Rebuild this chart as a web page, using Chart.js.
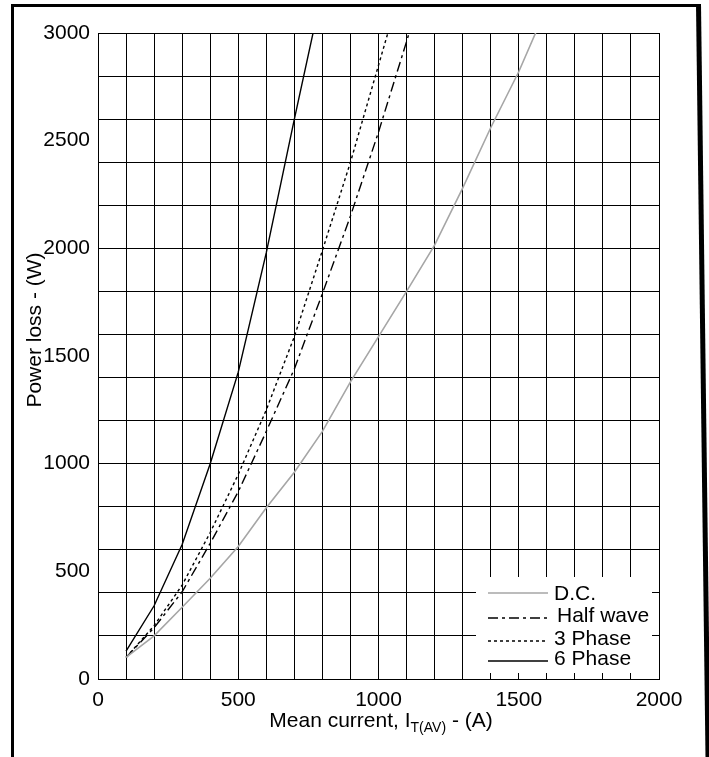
<!DOCTYPE html>
<html>
<head>
<meta charset="utf-8">
<title>Power loss</title>
<style>
  body { margin: 0; background: #fff; }
  #wrap { position: relative; width: 709px; height: 757px; }
</style>
</head>
<body>
<div id="wrap"><canvas id="lossChart"></canvas></div>

<script src="https://cdn.jsdelivr.net/npm/chart.js"></script>
<script>
  // mean current I_T(AV) in A
  const currents = [100, 200, 300, 400, 500, 600, 700, 800, 900, 1000, 1100, 1200, 1300, 1400, 1500, 1600];

  // power loss in W
  const dcLoss         = [100, 200, 333, 468, 615, 795, 960, 1150, 1380, 1590, 1800, 2015, 2280, 2560, 2820, 3120];
  const halfWaveLoss   = [100, 238, 405, 630, 870, 1150, 1440, 1790, 2150, 2540, 2960, 3400];
  const threePhaseLoss = [100, 248, 436, 680, 950, 1250, 1590, 1990, 2400, 2850, 3300];
  const sixPhaseLoss   = [130, 340, 625, 1000, 1425, 1980, 2600, 3200];

  const seriesNames = ['D.C.', 'Half wave', '3 Phase', '6 Phase'];
  const xTickLabels = [0, 500, 1000, 1500, 2000];
  const yTickLabels = [0, 500, 1000, 1500, 2000, 2500, 3000];

  const FONT = '"Liberation Sans", Arial, Helvetica, sans-serif';

  function toPoints(values) {
    return values.map((v, i) => ({ x: currents[i], y: v }));
  }

  // frame, axis titles and the boxed legend
  const decor = {
    id: 'decor',
    afterDraw(chart) {
      const ctx = chart.ctx;
      ctx.save();

      // outer frame (bottom edge is off the page)
      ctx.fillStyle = '#000';
      ctx.fillRect(11, 4, 3, 753);
      ctx.fillRect(11, 4, 690, 3);
      ctx.beginPath();
      ctx.moveTo(696, 4);
      ctx.lineTo(701, 4);
      ctx.lineTo(710.5, 757);
      ctx.lineTo(705.5, 757);
      ctx.closePath();
      ctx.fill();

      // x title with subscript
      ctx.fillStyle = '#000';
      ctx.textBaseline = 'alphabetic';
      ctx.textAlign = 'left';
      const big = '21px ' + FONT, small = '14px ' + FONT;
      const a = 'Mean current, I', b = 'T(AV)', c = ' - (A)';
      ctx.font = big;
      const wa = ctx.measureText(a).width, wc = ctx.measureText(c).width;
      ctx.font = small;
      const wb = ctx.measureText(b).width;
      let x = 381 - (wa + wb + wc) / 2;
      ctx.font = big;
      ctx.fillText(a, x, 727);
      x += wa;
      ctx.font = small;
      ctx.fillText(b, x, 732);
      x += wb;
      ctx.font = big;
      ctx.fillText(c, x, 727);

      // y title
      ctx.save();
      ctx.translate(35, 330);
      ctx.rotate(-Math.PI / 2);
      ctx.textAlign = 'center';
      ctx.textBaseline = 'middle';
      ctx.font = big;
      ctx.fillText('Power loss - (W)', 0, 0);
      ctx.restore();

      // legend box
      ctx.fillStyle = '#fff';
      ctx.fillRect(476, 577, 176, 96);
      const lineY = [593, 618, 641, 661];
      const textY = [600, 622, 645, 665];
      const textX = [554, 557, 554, 554];
      chart.data.datasets.forEach((ds, i) => {
        ctx.beginPath();
        ctx.strokeStyle = ds.borderColor;
        ctx.lineWidth = ds.borderWidth;
        ctx.setLineDash(ds.borderDash || []);
        ctx.moveTo(488, lineY[i]);
        ctx.lineTo(548, lineY[i]);
        ctx.stroke();
        ctx.setLineDash([]);
        ctx.fillStyle = '#000';
        ctx.font = big;
        ctx.fillText(ds.label, textX[i], textY[i]);
      });

      ctx.restore();
    }
  };

  const ctx = document.getElementById('lossChart').getContext('2d');
  const lossChart = new Chart(ctx, {
    type: 'line',
    data: {
      datasets: [
        { label: seriesNames[0], data: toPoints(dcLoss), borderColor: '#a6a6a6', borderWidth: 1.6 },
        { label: seriesNames[1], data: toPoints(halfWaveLoss), borderColor: '#000', borderWidth: 1.4, borderDash: [10, 4, 3, 4] },
        { label: seriesNames[2], data: toPoints(threePhaseLoss), borderColor: '#000', borderWidth: 1.4, borderDash: [3, 3] },
        { label: seriesNames[3], data: toPoints(sixPhaseLoss), borderColor: '#000', borderWidth: 1.4 }
      ]
    },
    options: {
      responsive: true,
      maintainAspectRatio: false,
      animation: false,
      layout: { padding: { left: 0, right: 50, top: 33, bottom: 0 } },
      elements: { point: { radius: 0 }, line: { tension: 0, fill: false } },
      plugins: { legend: { display: false }, tooltip: { enabled: false } },
      scales: {
        x: {
          type: 'linear',
          min: 0,
          max: 2000,
          ticks: {
            stepSize: 100,
            autoSkip: false,
            maxRotation: 0,
            padding: 9,
            color: '#000',
            font: { family: FONT, size: 21 },
            callback: v => xTickLabels.includes(v) ? String(v) : ''
          },
          grid: { color: '#000', lineWidth: 1, drawTicks: false },
          border: { color: '#000', width: 1 },
          afterFit: s => { s.height = 78; }
        },
        y: {
          type: 'linear',
          min: 0,
          max: 3000,
          afterBuildTicks: s => {
            s.ticks = s.ticks.filter(t => t.value % 200 === 0 || yTickLabels.includes(t.value));
          },
          ticks: {
            stepSize: 100,
            autoSkip: false,
            padding: 8,
            color: '#000',
            font: { family: FONT, size: 21 },
            callback: v => yTickLabels.includes(v) ? String(v) : ''
          },
          grid: {
            color: c => (c.tick && c.tick.value % 200 === 0) ? '#000' : 'rgba(0,0,0,0)',
            lineWidth: 1,
            drawTicks: false
          },
          border: { color: '#000', width: 1 },
          afterFit: s => { s.width = 98; }
        }
      }
    },
    plugins: [decor]
  });
</script>
</body>
</html>
